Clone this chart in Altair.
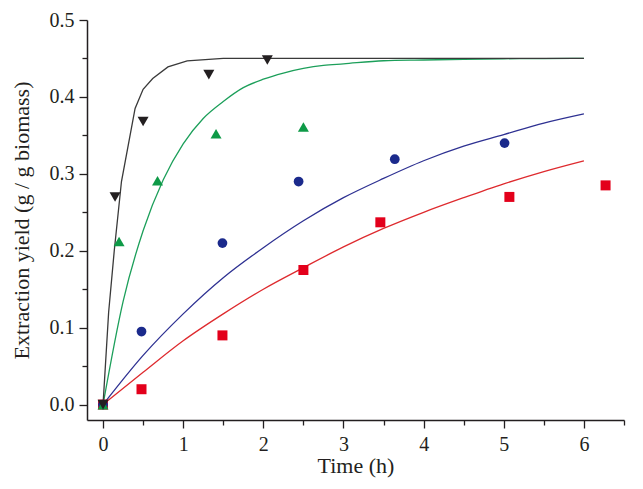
import altair as alt
import pandas as pd

# ---- measured points (Time h, yield g/g) ----
black_t = [0, 0.15, 0.5, 1.32, 2.05]
black_y = [0, 0.27, 0.368, 0.429, 0.448]
green_t = [0, 0.2, 0.68, 1.41, 2.5]
green_y = [0, 0.212, 0.291, 0.352, 0.361]
blue_t = [0, 0.48, 1.49, 2.44, 3.64, 5.01]
blue_y = [0, 0.095, 0.21, 0.29, 0.319, 0.34]
red_t = [0, 0.48, 1.49, 2.5, 3.46, 5.07, 6.27]
red_y = [0, 0.02, 0.09, 0.175, 0.237, 0.27, 0.285]

# ---- model curves ----
black_ct = [0, 0.07, 0.14, 0.23, 0.4, 0.5, 0.62, 0.81, 1.05, 1.5, 2.0, 3.0, 6.0]
black_cy = [0, 0.12, 0.20, 0.29, 0.385, 0.41, 0.424, 0.439, 0.447, 0.45, 0.45, 0.45, 0.45]
green_ct = [0, 0.25, 0.5, 0.75, 1.0, 1.25, 1.5, 1.75, 2.0, 2.25, 2.5, 2.75, 3.0, 3.5, 4.0, 4.5, 5.0, 5.5, 6.0]
green_cy = [0, 0.134, 0.226, 0.292, 0.339, 0.372, 0.394, 0.412, 0.423, 0.431, 0.437, 0.441, 0.443,
            0.447, 0.448, 0.449, 0.4496, 0.4499, 0.45]
blue_ct = [0, 0.5, 1, 1.5, 2, 2.5, 3, 3.5, 4, 4.5, 5, 5.5, 6]
blue_cy = [0, 0.064, 0.118, 0.165, 0.204, 0.239, 0.269, 0.294, 0.317, 0.336, 0.351, 0.366, 0.378]
red_ct = [0, 0.5, 1, 1.5, 2, 2.5, 3, 3.5, 4, 4.5, 5, 5.5, 6]
red_cy = [0, 0.042, 0.083, 0.118, 0.150, 0.178, 0.205, 0.229, 0.25, 0.269, 0.287, 0.303, 0.317]

x_ticks = [i * 0.5 for i in range(14)]
y_ticks = [round(i * 0.05, 2) for i in range(11)]

FONT = "Liberation Serif"
INK = "#231f20"

x_scale = alt.Scale(domain=[-0.2, 6.5], nice=False, zero=False)
y_scale = alt.Scale(domain=[-0.02, 0.5], nice=False, zero=False)

x_axis = alt.Axis(
    values=x_ticks, format=".0f",
    labelExpr="datum.value % 1 === 0 ? datum.label : ''",
    tickSize={"condition": {"test": "datum.value % 1 === 0", "value": 8}, "value": 5},
    title="Time (h)", grid=False, labelPadding=6, titlePadding=1,
)
y_axis = alt.Axis(
    values=y_ticks, format=".1f",
    labelExpr="abs(datum.value*10 - round(datum.value*10)) < 0.000001 ? datum.label : ''",
    tickSize={"condition": {"test": "abs(datum.value*10 - round(datum.value*10)) < 0.000001", "value": 8}, "value": 5},
    title="Extraction yield (g / g biomass)", grid=False, labelPadding=5, titlePadding=16,
)


def curve(t, y, color, interp):
    df = pd.DataFrame({"t": t, "y": y})
    return alt.Chart(df).mark_line(color=color, strokeWidth=1.3, interpolate=interp).encode(
        x=alt.X("t:Q", scale=x_scale, axis=x_axis),
        y=alt.Y("y:Q", scale=y_scale, axis=y_axis),
    )


def pts(t, y, color, shape, size):
    df = pd.DataFrame({"t": t, "y": y})
    return alt.Chart(df).mark_point(
        shape=shape, filled=True, color=color, size=size, opacity=1
    ).encode(
        x=alt.X("t:Q", scale=x_scale, axis=x_axis),
        y=alt.Y("y:Q", scale=y_scale, axis=y_axis),
    )


chart = alt.layer(
    curve(red_ct, red_cy, "#de2a2e", "monotone"),
    curve(blue_ct, blue_cy, "#2e3192", "monotone"),
    curve(green_ct, green_cy, "#1c9f5a", "monotone"),
    curve(black_ct, black_cy, "#3a3a3a", "linear"),
    pts(red_t, red_y, "#e3001b", "square", 100),
    pts(blue_t, blue_y, "#1b2a8c", "circle", 95),
    pts(green_t, green_y, "#0e9a47", "triangle-up", 121),
    pts(black_t, black_y, INK, "triangle-down", 121),
).properties(
    width=537, height=400,
    background="white",
    autosize=alt.AutoSizeParams(type="none"),
    padding={"left": 79, "top": 12, "right": 11, "bottom": 61},
).configure_view(stroke=None).configure_axis(
    labelFont=FONT, titleFont=FONT, labelFontSize=20, titleFontSize=22,
    titleFontWeight="normal", labelColor=INK, titleColor=INK,
    domainColor=INK, domainWidth=1.5, tickColor=INK, tickWidth=1.3,
)

chart.save("out.html", embed_options={"renderer": "svg", "actions": False})
